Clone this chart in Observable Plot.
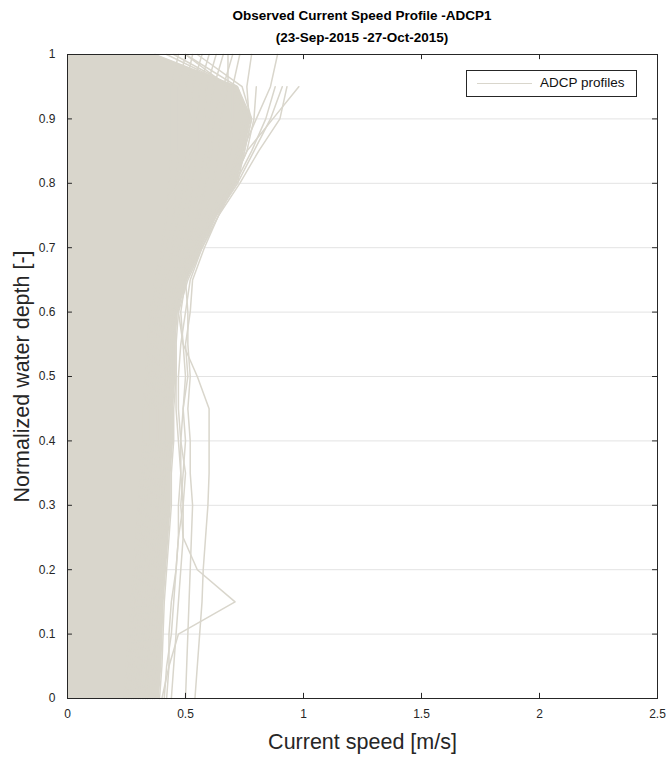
<!DOCTYPE html>
<html>
<head>
<meta charset="utf-8">
<script src="https://cdn.jsdelivr.net/npm/d3@7"></script>
<script src="https://cdn.jsdelivr.net/npm/@observablehq/plot@0.6"></script>
<style>
  body { margin: 0; background: #fff; font-family: "Liberation Sans", Arial, sans-serif; }
  #wrap { position: relative; width: 668px; height: 758px; }
  #title { height: 41px; padding-top: 5px; line-height: 22px; font-weight: bold; font-size: 13.5px;
           text-align: center; padding-left: 67px; width: 590px; color: #000; }
  #legend { position: absolute; left: 466px; top: 70px; width: 169px; height: 25px; border: 1px solid #262626;
            background: #fff; }
  #legend .swatch { position: absolute; left: 10px; top: 12px; width: 55px; height: 0; border-top: 1.5px solid #d9d6cc; }
  #legend .label { position: absolute; left: 73px; top: 4px; font-size: 13.5px; color: #111; }
</style>
</head>
<body>
<div id="wrap">
  <div id="title">Observed Current Speed Profile -ADCP1<br>(23-Sep-2015 -27-Oct-2015)</div>
  <div id="chart"></div>
  <div id="legend"><div class="swatch"></div><div class="label">ADCP profiles</div></div>
</div>
<script>
// Normalized depth levels (bottom = 0, surface = 1) shared by every profile
const depthLevels = [0, 0.05, 0.1, 0.15, 0.2, 0.25, 0.3, 0.35, 0.4, 0.45, 0.5, 0.55, 0.6, 0.65, 0.7, 0.75, 0.8, 0.85, 0.9, 0.95, 1];

// Outer edge of the dense bundle of profiles (speed, m/s) at each depth level
const bundleEdge = [0.39, 0.40, 0.405, 0.41, 0.42, 0.43, 0.44, 0.44, 0.45, 0.45, 0.46, 0.46, 0.47, 0.51, 0.57, 0.63, 0.72, 0.75, 0.78, 0.72, 0.37];

// Individual profiles that stand out from the bundle (speed, m/s; null = no bin)
const profileA   = [0.54, 0.55, 0.56, 0.57, 0.575, 0.585, 0.595, 0.60, 0.60, 0.60, 0.55, 0.49, 0.47, 0.49, 0.55, 0.60, 0.68, 0.72, 0.74, 0.68, 0.50];
const profileB   = [0.50, 0.505, 0.51, 0.515, 0.52, 0.525, 0.53, 0.52, 0.52, 0.51, 0.52, 0.51, 0.51, 0.50, 0.54, 0.60, 0.68, 0.73, 0.76, 0.70, 0.45];
const profileC   = [0.44, 0.45, 0.46, 0.47, 0.48, 0.49, 0.48, 0.49, 0.50, 0.49, 0.50, 0.49, 0.48, 0.50, 0.56, 0.62, 0.70, 0.74, 0.77, 0.70, 0.42];
const profileD   = [0.42, 0.43, 0.43, 0.44, 0.46, 0.47, 0.47, 0.48, 0.48, 0.47, 0.47, 0.48, 0.50, 0.52, 0.57, 0.64, 0.71, 0.75, 0.78, 0.74, 0.55];
const profileE   = [0.41, 0.42, 0.44, 0.45, 0.46, 0.47, 0.49, 0.50, 0.48, 0.49, 0.51, 0.50, 0.52, 0.53, 0.58, 0.64, 0.70, 0.74, 0.77, 0.71, null];
const profileTri = [0.40, 0.43, 0.47, 0.71, 0.55, 0.49, 0.49, 0.48, 0.47, 0.46, 0.46, 0.46, 0.45, 0.48, 0.55, 0.62, 0.70, 0.74, 0.77, 0.72, 0.50];
const profileF1  = [0.36, 0.37, 0.38, 0.39, 0.40, 0.41, 0.42, 0.42, 0.43, 0.43, 0.44, 0.45, 0.46, 0.50, 0.56, 0.63, 0.70, 0.76, 0.87, 0.98, null];
const profileF2  = [0.35, 0.36, 0.37, 0.38, 0.39, 0.40, 0.41, 0.42, 0.43, 0.43, 0.44, 0.44, 0.45, 0.49, 0.55, 0.62, 0.69, 0.74, 0.80, 0.86, 0.89];
const profileF3  = [0.37, 0.38, 0.39, 0.40, 0.41, 0.42, 0.43, 0.43, 0.44, 0.44, 0.45, 0.45, 0.46, 0.50, 0.57, 0.64, 0.73, 0.81, 0.90, 0.93, null];
const profileF4  = [0.34, 0.35, 0.36, 0.37, 0.38, 0.39, 0.40, 0.41, 0.42, 0.42, 0.43, 0.44, 0.45, 0.48, 0.55, 0.63, 0.71, 0.78, 0.84, 0.88, null];
const profileF5  = [0.33, 0.34, 0.35, 0.36, 0.37, 0.38, 0.39, 0.40, 0.41, 0.41, 0.42, 0.43, 0.44, 0.47, 0.54, 0.62, 0.70, 0.76, 0.79, 0.80, null];
const profileF6  = [0.32, 0.33, 0.34, 0.35, 0.36, 0.37, 0.38, 0.39, 0.40, 0.40, 0.41, 0.42, 0.43, 0.46, 0.53, 0.61, 0.69, 0.74, 0.77, 0.76, 0.78];
const profileF7  = [0.34, 0.35, 0.36, 0.37, 0.38, 0.39, 0.40, 0.41, 0.42, 0.42, 0.43, 0.44, 0.45, 0.49, 0.56, 0.63, 0.72, 0.79, 0.86, 0.91, null];
const profileS1  = [0.30, 0.31, 0.32, 0.33, 0.34, 0.35, 0.36, 0.37, 0.38, 0.38, 0.39, 0.40, 0.41, 0.44, 0.50, 0.55, 0.58, 0.60, 0.60, 0.62, 0.66];
const profileS2  = [0.28, 0.29, 0.30, 0.31, 0.32, 0.33, 0.34, 0.35, 0.36, 0.36, 0.37, 0.38, 0.39, 0.42, 0.47, 0.51, 0.53, 0.55, 0.55, 0.56, 0.60];
const profileS3  = [0.26, 0.27, 0.28, 0.29, 0.30, 0.31, 0.32, 0.33, 0.34, 0.34, 0.35, 0.36, 0.37, 0.40, 0.44, 0.47, 0.49, 0.50, 0.50, 0.50, 0.53];
const profileS4  = [0.31, 0.32, 0.33, 0.34, 0.35, 0.36, 0.37, 0.38, 0.39, 0.39, 0.40, 0.41, 0.42, 0.45, 0.51, 0.56, 0.59, 0.61, 0.62, 0.66, 0.70];
const profileS5  = [0.24, 0.25, 0.26, 0.27, 0.28, 0.29, 0.30, 0.31, 0.32, 0.32, 0.33, 0.34, 0.35, 0.37, 0.40, 0.42, 0.43, 0.44, 0.44, 0.44, 0.47];
const profileS6  = [0.33, 0.34, 0.35, 0.36, 0.37, 0.38, 0.39, 0.40, 0.41, 0.41, 0.42, 0.43, 0.44, 0.47, 0.53, 0.60, 0.66, 0.69, 0.70, 0.70, 0.73];
const profileS7  = [0.27, 0.28, 0.29, 0.30, 0.31, 0.32, 0.33, 0.34, 0.35, 0.35, 0.36, 0.37, 0.38, 0.41, 0.45, 0.49, 0.51, 0.52, 0.52, 0.53, 0.57];
const profileS8  = [0.29, 0.30, 0.31, 0.32, 0.33, 0.34, 0.35, 0.36, 0.37, 0.37, 0.38, 0.39, 0.40, 0.43, 0.48, 0.53, 0.56, 0.58, 0.58, 0.59, 0.63];
const profileS9  = [0.25, 0.26, 0.27, 0.28, 0.29, 0.30, 0.31, 0.32, 0.33, 0.33, 0.34, 0.35, 0.36, 0.38, 0.42, 0.45, 0.46, 0.47, 0.47, 0.47, 0.50];
const profileS10 = [0.32, 0.33, 0.34, 0.35, 0.36, 0.37, 0.38, 0.39, 0.40, 0.40, 0.41, 0.42, 0.43, 0.46, 0.52, 0.58, 0.62, 0.64, 0.65, 0.68, 0.68];

// Axis ticks
const xTicks = [0, 0.5, 1, 1.5, 2, 2.5];
const yTicks = [0, 0.1, 0.2, 0.3, 0.4, 0.5, 0.6, 0.7, 0.8, 0.9, 1];
const gridLevels = [0.1, 0.2, 0.3, 0.4, 0.5, 0.6, 0.7, 0.8, 0.9];

const profileColor = "#d9d6cc";
const axisColor = "#262626";

const profiles = [profileA, profileB, profileC, profileD, profileE, profileTri,
  profileF1, profileF2, profileF3, profileF4, profileF5, profileF6, profileF7,
  profileS1, profileS2, profileS3, profileS4, profileS5, profileS6, profileS7, profileS8, profileS9, profileS10];

const points = profiles.flatMap((speeds, id) =>
  speeds.map((speed, k) => ({id, depth: depthLevels[k], speed})).filter(d => d.speed != null));

const bundle = depthLevels.map((depth, k) => ({depth, speed: bundleEdge[k]}));

// Inward tick lengths, in data units (about 5 px)
const tickLenX = 0.021;
const tickLenY = 0.008;
const plain = d => `${d}`;

const chart = Plot.plot({
  width: 668,
  height: 712,
  marginTop: 8,
  marginBottom: 60,
  marginLeft: 67,
  marginRight: 11,
  style: {fontFamily: "'Liberation Sans', Arial, sans-serif", fontSize: "12px", color: axisColor, background: "#fff"},
  x: {domain: [0, 2.5]},
  y: {domain: [0, 1]},
  marks: [
    Plot.ruleY(gridLevels, {stroke: "#e3e3e3", strokeWidth: 1}),
    Plot.areaX(bundle, {y: "depth", x: "speed", fill: profileColor}),
    Plot.line(bundle, {y: "depth", x: "speed", stroke: profileColor, strokeWidth: 1.5, sort: null}),
    Plot.line(points, {y: "depth", x: "speed", z: "id", stroke: profileColor, strokeWidth: 1.5}),
    Plot.frame({stroke: axisColor, strokeWidth: 1}),
    Plot.ruleX(xTicks, {x: d => d, y1: 0, y2: tickLenY, stroke: axisColor}),
    Plot.ruleX(xTicks, {x: d => d, y1: 1, y2: 1 - tickLenY, stroke: axisColor}),
    Plot.ruleY(yTicks, {y: d => d, x1: 0, x2: tickLenX, stroke: axisColor}),
    Plot.ruleY(yTicks, {y: d => d, x1: 2.5, x2: 2.5 - tickLenX, stroke: axisColor}),
    Plot.axisX(xTicks, {tickSize: 0, tickPadding: 11, label: null, fill: axisColor, tickFormat: plain}),
    Plot.axisY(yTicks, {tickSize: 0, tickPadding: 12, label: null, fill: axisColor, tickFormat: plain}),
    Plot.text(["Current speed [m/s]"], {frameAnchor: "bottom", dy: 50, text: d => d, fontSize: 21.5, fill: axisColor}),
    Plot.text(["Normalized water depth [-]"], {frameAnchor: "left", textAnchor: "middle", dx: -45, rotate: -90, text: d => d, fontSize: 21.5, fill: axisColor})
  ]
});

document.getElementById("chart").appendChild(chart);
</script>
</body>
</html>
